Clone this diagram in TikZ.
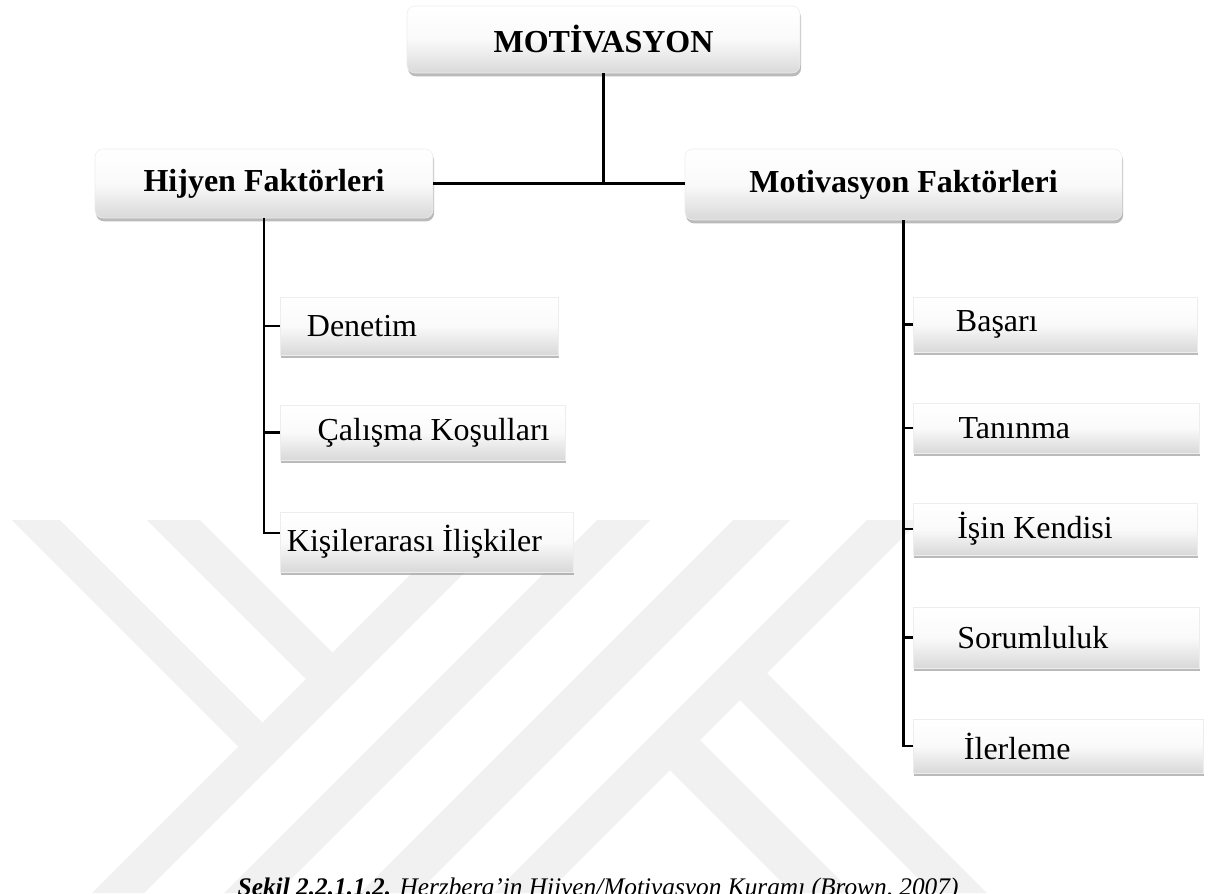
\documentclass[tikz,border=0pt]{standalone}
\usepackage{fontspec}
\setmainfont{Liberation Serif}
\usetikzlibrary{shadows,calc}
\definecolor{wmgray}{RGB}{241,241,241}

\begin{document}
\begin{tikzpicture}[
    x=0.75pt, y=-0.75pt,
    headbox/.style={
        rounded corners=6pt, draw=black!7, line width=0.4pt,
        top color=white, bottom color=black!15, middle color=black!2,
        drop shadow={shadow xshift=0.8pt, shadow yshift=-2.5pt, fill=black!45, opacity=0.6},
        align=center, inner sep=0pt,
        font=\fontsize{24}{29}\selectfont\bfseries
    },
    itembox/.style 2 args={
        sharp corners, draw=black!7, line width=0.4pt,
        top color=white, bottom color=black!15, middle color=black!2,
        drop shadow={shadow xshift=0.8pt, shadow yshift=-2.5pt, fill=black!45, opacity=0.6},
        anchor=west, inner xsep=0pt, inner ysep=0pt,
        font=\fontsize{24}{29}\selectfont,
        execute at begin node={\hbox to #1\bgroup\hspace*{#2}},
        execute at end node={\hfil\egroup}
    },
    link/.style={line width=2pt},
    wmark/.style={fill=wmgray}
]

% page and watermark
\fill[white] (0,0) rectangle (1219,893);
\useasboundingbox (0,0) rectangle (1219,893);
\fill[wmark] (12,520) -- (60,520) -- (262.5,722.5) -- (238.5,746.5) -- cycle;
\fill[wmark] (147,520) -- (200,520) -- (332.5,652.5) -- (306,679) -- cycle;
\fill[wmark] (465,520) -- (517,520) -- (144,893) -- (92,893) -- cycle;
\fill[wmark] (597,520) -- (650,520) -- (277,893) -- (224,893) -- cycle;
\fill[wmark] (733,520) -- (790,520) -- (417,893) -- (360,893) -- cycle;
\fill[wmark] (867,520) -- (920,520) -- (547,893) -- (494,893) -- cycle;
\fill[wmark] (670,770) -- (700,740) -- (853,893) -- (793,893) -- cycle;
\fill[wmark] (740,700) -- (767,673) -- (987,893) -- (933,893) -- cycle;

% top levels
\node[headbox, minimum width=294.75pt, minimum height=50.25pt] (motiv) at (603.5,39.5) {MOTİVASYON};
\node[headbox, minimum width=253.5pt, minimum height=51.75pt] (hyg) at (264,183.5) {Hijyen Faktörleri};
\node[headbox, minimum width=327.75pt, minimum height=53.25pt] (motf) at (903.5,184.5) {Motivasyon Faktörleri};

% hygiene factors
\node[itembox={208.5pt}{20pt}, minimum height=43.5pt] (den) at (280,326) {Denetim};
\node[itembox={213.75pt}{28pt}, minimum height=41.25pt] (cal) at (280,432.5) {Çalışma Koşulları};
\node[itembox={219.75pt}{5pt}, minimum height=45pt] (kisi) at (280,542) {Kişilerarası İlişkiler};

% motivation factors
\node[itembox={213pt}{32pt}, minimum height=41.25pt] (basari) at (913,324.5) {Başarı};
\node[itembox={214.5pt}{34pt}, minimum height=37.5pt] (tanin) at (913,428) {Tanınma};
\node[itembox={213pt}{33pt}, minimum height=39pt] (isin) at (913,529) {İşin Kendisi};
\node[itembox={214.5pt}{33pt}, minimum height=45.75pt] (sorum) at (913,637.5) {Sorumluluk};
\node[itembox={217.5pt}{38pt}, minimum height=40.5pt] (iler) at (913,746) {İlerleme};

% connectors
\coordinate (junction) at (motiv.south |- hyg.east);
\draw[link] (motiv.south) -- (junction);
\draw[link] (hyg.east) -- (hyg.east -| motf.west);

\coordinate (kisitick) at ($(kisi.north west)!0.35!(kisi.south west)$);
\draw[link] (hyg.south) |- (kisitick);
\foreach \n in {den,cal}
    \draw[link] (hyg.south |- \n.west) -- (\n.west);

\draw[link] (motf.south) |- (iler.west);
\foreach \n in {basari,tanin,isin,sorum}
    \draw[link] (motf.south |- \n.west) -- (\n.west);

% caption
\node[anchor=base west, font=\fontsize{19}{23}\selectfont\itshape] (caption) at (233,895)
    {\textbf{Şekil 2.2.1.1.2.} Herzberg’in Hijyen/Motivasyon Kuramı (Brown, 2007)};

\end{tikzpicture}
\end{document}
